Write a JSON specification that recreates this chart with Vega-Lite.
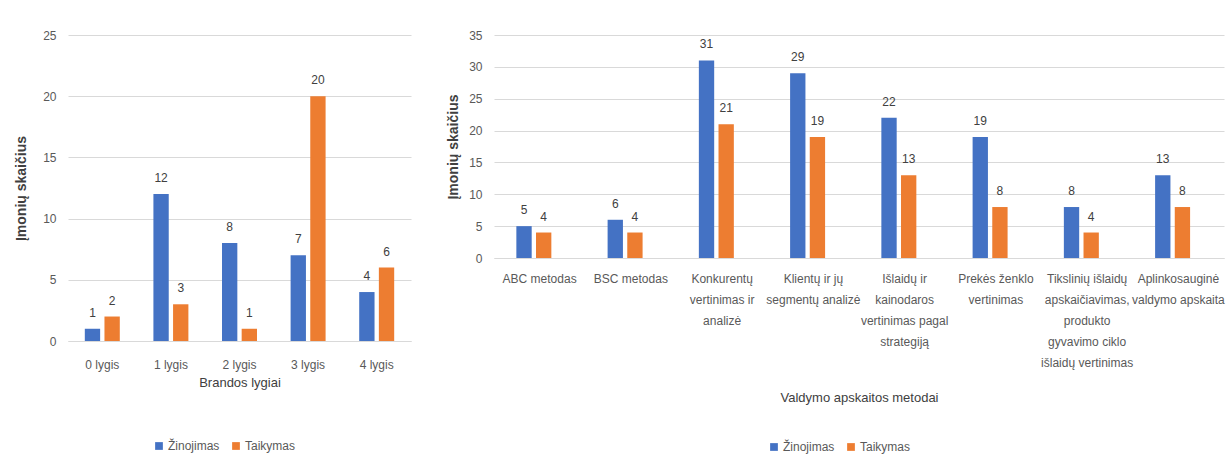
{
  "$schema": "https://vega.github.io/schema/vega-lite/v6.json",
  "background": "white",
  "padding": {"left": 14, "top": 29, "right": 5, "bottom": 5},
  "config": {
    "font": "Liberation Sans, sans-serif",
    "view": {"stroke": null},
    "axis": {"labelColor": "#595959", "titleColor": "#404040", "labelFontSize": 12, "titleFontSize": 13, "titleFontWeight": "normal", "gridColor": "#d9d9d9", "domainColor": "#d9d9d9", "ticks": false},
    "legend": {"labelColor": "#595959", "labelFontSize": 12},
    "concat": {"spacing": 35}
  },
  "resolve": {"scale": {"color": "independent", "y": "independent", "x": "independent"}},
  "hconcat": [
    {
      "width": 343,
      "height": 306,
      "data": {"values": [
        {"lygis": "0 lygis", "serija": "Žinojimas", "reiksme": 1},
        {"lygis": "0 lygis", "serija": "Taikymas", "reiksme": 2},
        {"lygis": "1 lygis", "serija": "Žinojimas", "reiksme": 12},
        {"lygis": "1 lygis", "serija": "Taikymas", "reiksme": 3},
        {"lygis": "2 lygis", "serija": "Žinojimas", "reiksme": 8},
        {"lygis": "2 lygis", "serija": "Taikymas", "reiksme": 1},
        {"lygis": "3 lygis", "serija": "Žinojimas", "reiksme": 7},
        {"lygis": "3 lygis", "serija": "Taikymas", "reiksme": 20},
        {"lygis": "4 lygis", "serija": "Žinojimas", "reiksme": 4},
        {"lygis": "4 lygis", "serija": "Taikymas", "reiksme": 6}
      ]},
      "encoding": {
        "x": {"field": "lygis", "type": "nominal", "sort": null, "scale": {"paddingInner": 0.49, "paddingOuter": 0.245},
              "axis": {"title": "Brandos lygiai", "labelAngle": 0, "labelPadding": 18, "titlePadding": 6, "domain": true}},
        "xOffset": {"field": "serija", "type": "nominal", "sort": ["Žinojimas", "Taikymas"], "scale": {"paddingInner": 0.22}},
        "y": {"field": "reiksme", "type": "quantitative", "scale": {"domain": [0, 25]},
              "axis": {"title": "Įmonių skaičius", "titleFontWeight": "bold", "titleFontSize": 14, "values": [0, 5, 10, 15, 20, 25], "domain": false, "labelPadding": 12, "titlePadding": 14}}
      },
      "layer": [
        {"mark": {"type": "bar"},
         "encoding": {"color": {"field": "serija", "type": "nominal", "sort": ["Žinojimas", "Taikymas"],
           "scale": {"domain": ["Žinojimas", "Taikymas"], "range": ["#4472C4", "#ED7D31"]},
           "legend": {"title": null, "orient": "none", "legendX": 85, "legendY": 405, "direction": "horizontal", "symbolType": "square", "symbolSize": 60, "symbolStrokeWidth": 0, "columnPadding": 10, "labelOffset": 3}}}},
        {"mark": {"type": "text", "baseline": "bottom", "dy": -9, "fontSize": 12, "color": "#404040"},
         "encoding": {"text": {"field": "reiksme", "type": "quantitative"}}}
      ]
    },
    {
      "width": 730,
      "height": 223,
      "data": {"values": [
        {"metodas": "ABC metodas", "serija": "Žinojimas", "reiksme": 5},
        {"metodas": "ABC metodas", "serija": "Taikymas", "reiksme": 4},
        {"metodas": "BSC metodas", "serija": "Žinojimas", "reiksme": 6},
        {"metodas": "BSC metodas", "serija": "Taikymas", "reiksme": 4},
        {"metodas": "Konkurentų|vertinimas ir|analizė", "serija": "Žinojimas", "reiksme": 31},
        {"metodas": "Konkurentų|vertinimas ir|analizė", "serija": "Taikymas", "reiksme": 21},
        {"metodas": "Klientų ir jų|segmentų analizė", "serija": "Žinojimas", "reiksme": 29},
        {"metodas": "Klientų ir jų|segmentų analizė", "serija": "Taikymas", "reiksme": 19},
        {"metodas": "Išlaidų ir|kainodaros|vertinimas pagal|strategiją", "serija": "Žinojimas", "reiksme": 22},
        {"metodas": "Išlaidų ir|kainodaros|vertinimas pagal|strategiją", "serija": "Taikymas", "reiksme": 13},
        {"metodas": "Prekės ženklo|vertinimas", "serija": "Žinojimas", "reiksme": 19},
        {"metodas": "Prekės ženklo|vertinimas", "serija": "Taikymas", "reiksme": 8},
        {"metodas": "Tikslinių išlaidų|apskaičiavimas,|produkto|gyvavimo ciklo|išlaidų vertinimas", "serija": "Žinojimas", "reiksme": 8},
        {"metodas": "Tikslinių išlaidų|apskaičiavimas,|produkto|gyvavimo ciklo|išlaidų vertinimas", "serija": "Taikymas", "reiksme": 4},
        {"metodas": "Aplinkosauginė|valdymo apskaita", "serija": "Žinojimas", "reiksme": 13},
        {"metodas": "Aplinkosauginė|valdymo apskaita", "serija": "Taikymas", "reiksme": 8}
      ]},
      "encoding": {
        "x": {"field": "metodas", "type": "nominal", "sort": null, "scale": {"paddingInner": 0.49, "paddingOuter": 0.245},
              "axis": {"title": "Valdymo apskaitos metodai", "labelAngle": 0, "labelPadding": 15, "labelLineHeight": 21, "labelBaseline": "top", "labelExpr": "split(datum.label, '|')", "titlePadding": 23, "domain": true, "labelLimit": 200}},
        "xOffset": {"field": "serija", "type": "nominal", "sort": ["Žinojimas", "Taikymas"], "scale": {"paddingInner": 0.22}},
        "y": {"field": "reiksme", "type": "quantitative", "scale": {"domain": [0, 35]},
              "axis": {"title": "Įmonių skaičius", "titleFontWeight": "bold", "titleFontSize": 14, "values": [0, 5, 10, 15, 20, 25, 30, 35], "domain": false, "labelPadding": 12, "titlePadding": 8}}
      },
      "layer": [
        {"mark": {"type": "bar"},
         "encoding": {"color": {"field": "serija", "type": "nominal", "sort": ["Žinojimas", "Taikymas"],
           "scale": {"domain": ["Žinojimas", "Taikymas"], "range": ["#4472C4", "#ED7D31"]},
           "legend": {"title": null, "orient": "none", "legendX": 274, "legendY": 406, "direction": "horizontal", "symbolType": "square", "symbolSize": 60, "symbolStrokeWidth": 0, "columnPadding": 10, "labelOffset": 3}}}},
        {"mark": {"type": "text", "baseline": "bottom", "dy": -9, "fontSize": 12, "color": "#404040"},
         "encoding": {"text": {"field": "reiksme", "type": "quantitative"}}}
      ]
    }
  ]
}
